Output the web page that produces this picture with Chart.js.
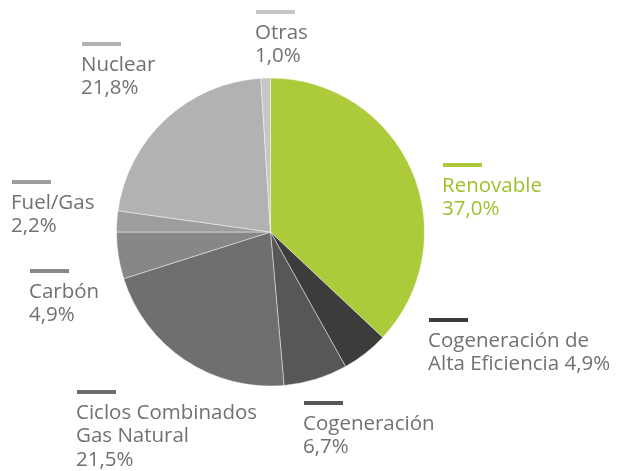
<!DOCTYPE html>
<html>
<head>
<meta charset="utf-8">
<script src="https://cdn.jsdelivr.net/npm/chart.js@4.4.1/dist/chart.umd.min.js"></script>
<style>
  html, body { margin: 0; padding: 0; background: #fff; }
</style>
</head>
<body>
<canvas id="mix" width="619" height="471"></canvas>
<script>
// generation mix, clockwise from 12 o'clock
const labels = [
  ['Renovable', '37,0%'],
  ['Cogeneración de', 'Alta Eficiencia 4,9%'],
  ['Cogeneración', '6,7%'],
  ['Ciclos Combinados', 'Gas Natural', '21,5%'],
  ['Carbón', '4,9%'],
  ['Fuel/Gas', '2,2%'],
  ['Nuclear', '21,8%'],
  ['Otras', '1,0%'],
];
const values = [37.0, 4.9, 6.7, 21.5, 4.9, 2.2, 21.8, 1.0];
const colors = ['#abcb3b', '#3c3c3b', '#575756', '#6f6f6e', '#878787', '#9d9d9c', '#b2b2b2', '#c6c6c6'];

// where each callout sits (bar top-left)
const calloutPos = [
  [443, 163], [429, 318], [304, 401], [77, 390],
  [30, 269], [12, 180], [82, 42], [256, 10],
];

const FONT = '20.5px "Open Sans", "Noto Sans", sans-serif';

const callouts = {
  id: 'callouts',
  afterDraw(chart) {
    const ctx = chart.ctx;
    ctx.save();
    ctx.font = FONT;
    ctx.textBaseline = 'alphabetic';
    ctx.textAlign = 'left';
    labels.forEach((lines, i) => {
      const [x, y] = calloutPos[i];
      ctx.fillStyle = colors[i];
      ctx.fillRect(x, y, 39, 4);
      ctx.fillStyle = i === 0 ? '#9cc22b' : '#717170';
      lines.forEach((t, j) => ctx.fillText(t, x - 1, y + 28.5 + j * 23.5));
    });
    ctx.restore();
  },
};

new Chart(document.getElementById('mix'), {
  type: 'pie',
  data: {
    labels: labels.map((l) => l.join(' ')),
    datasets: [{
      data: values,
      backgroundColor: colors,
      borderColor: 'rgba(255,255,255,0.55)',
      borderWidth: 0.8,
      radius: 154,
    }],
  },
  options: {
    responsive: false,
    animation: false,
    layout: { padding: { left: 0, right: 78, top: 0, bottom: 7 } },
    plugins: { legend: { display: false }, tooltip: { enabled: false } },
  },
  plugins: [callouts],
});
</script>
</body>
</html>
